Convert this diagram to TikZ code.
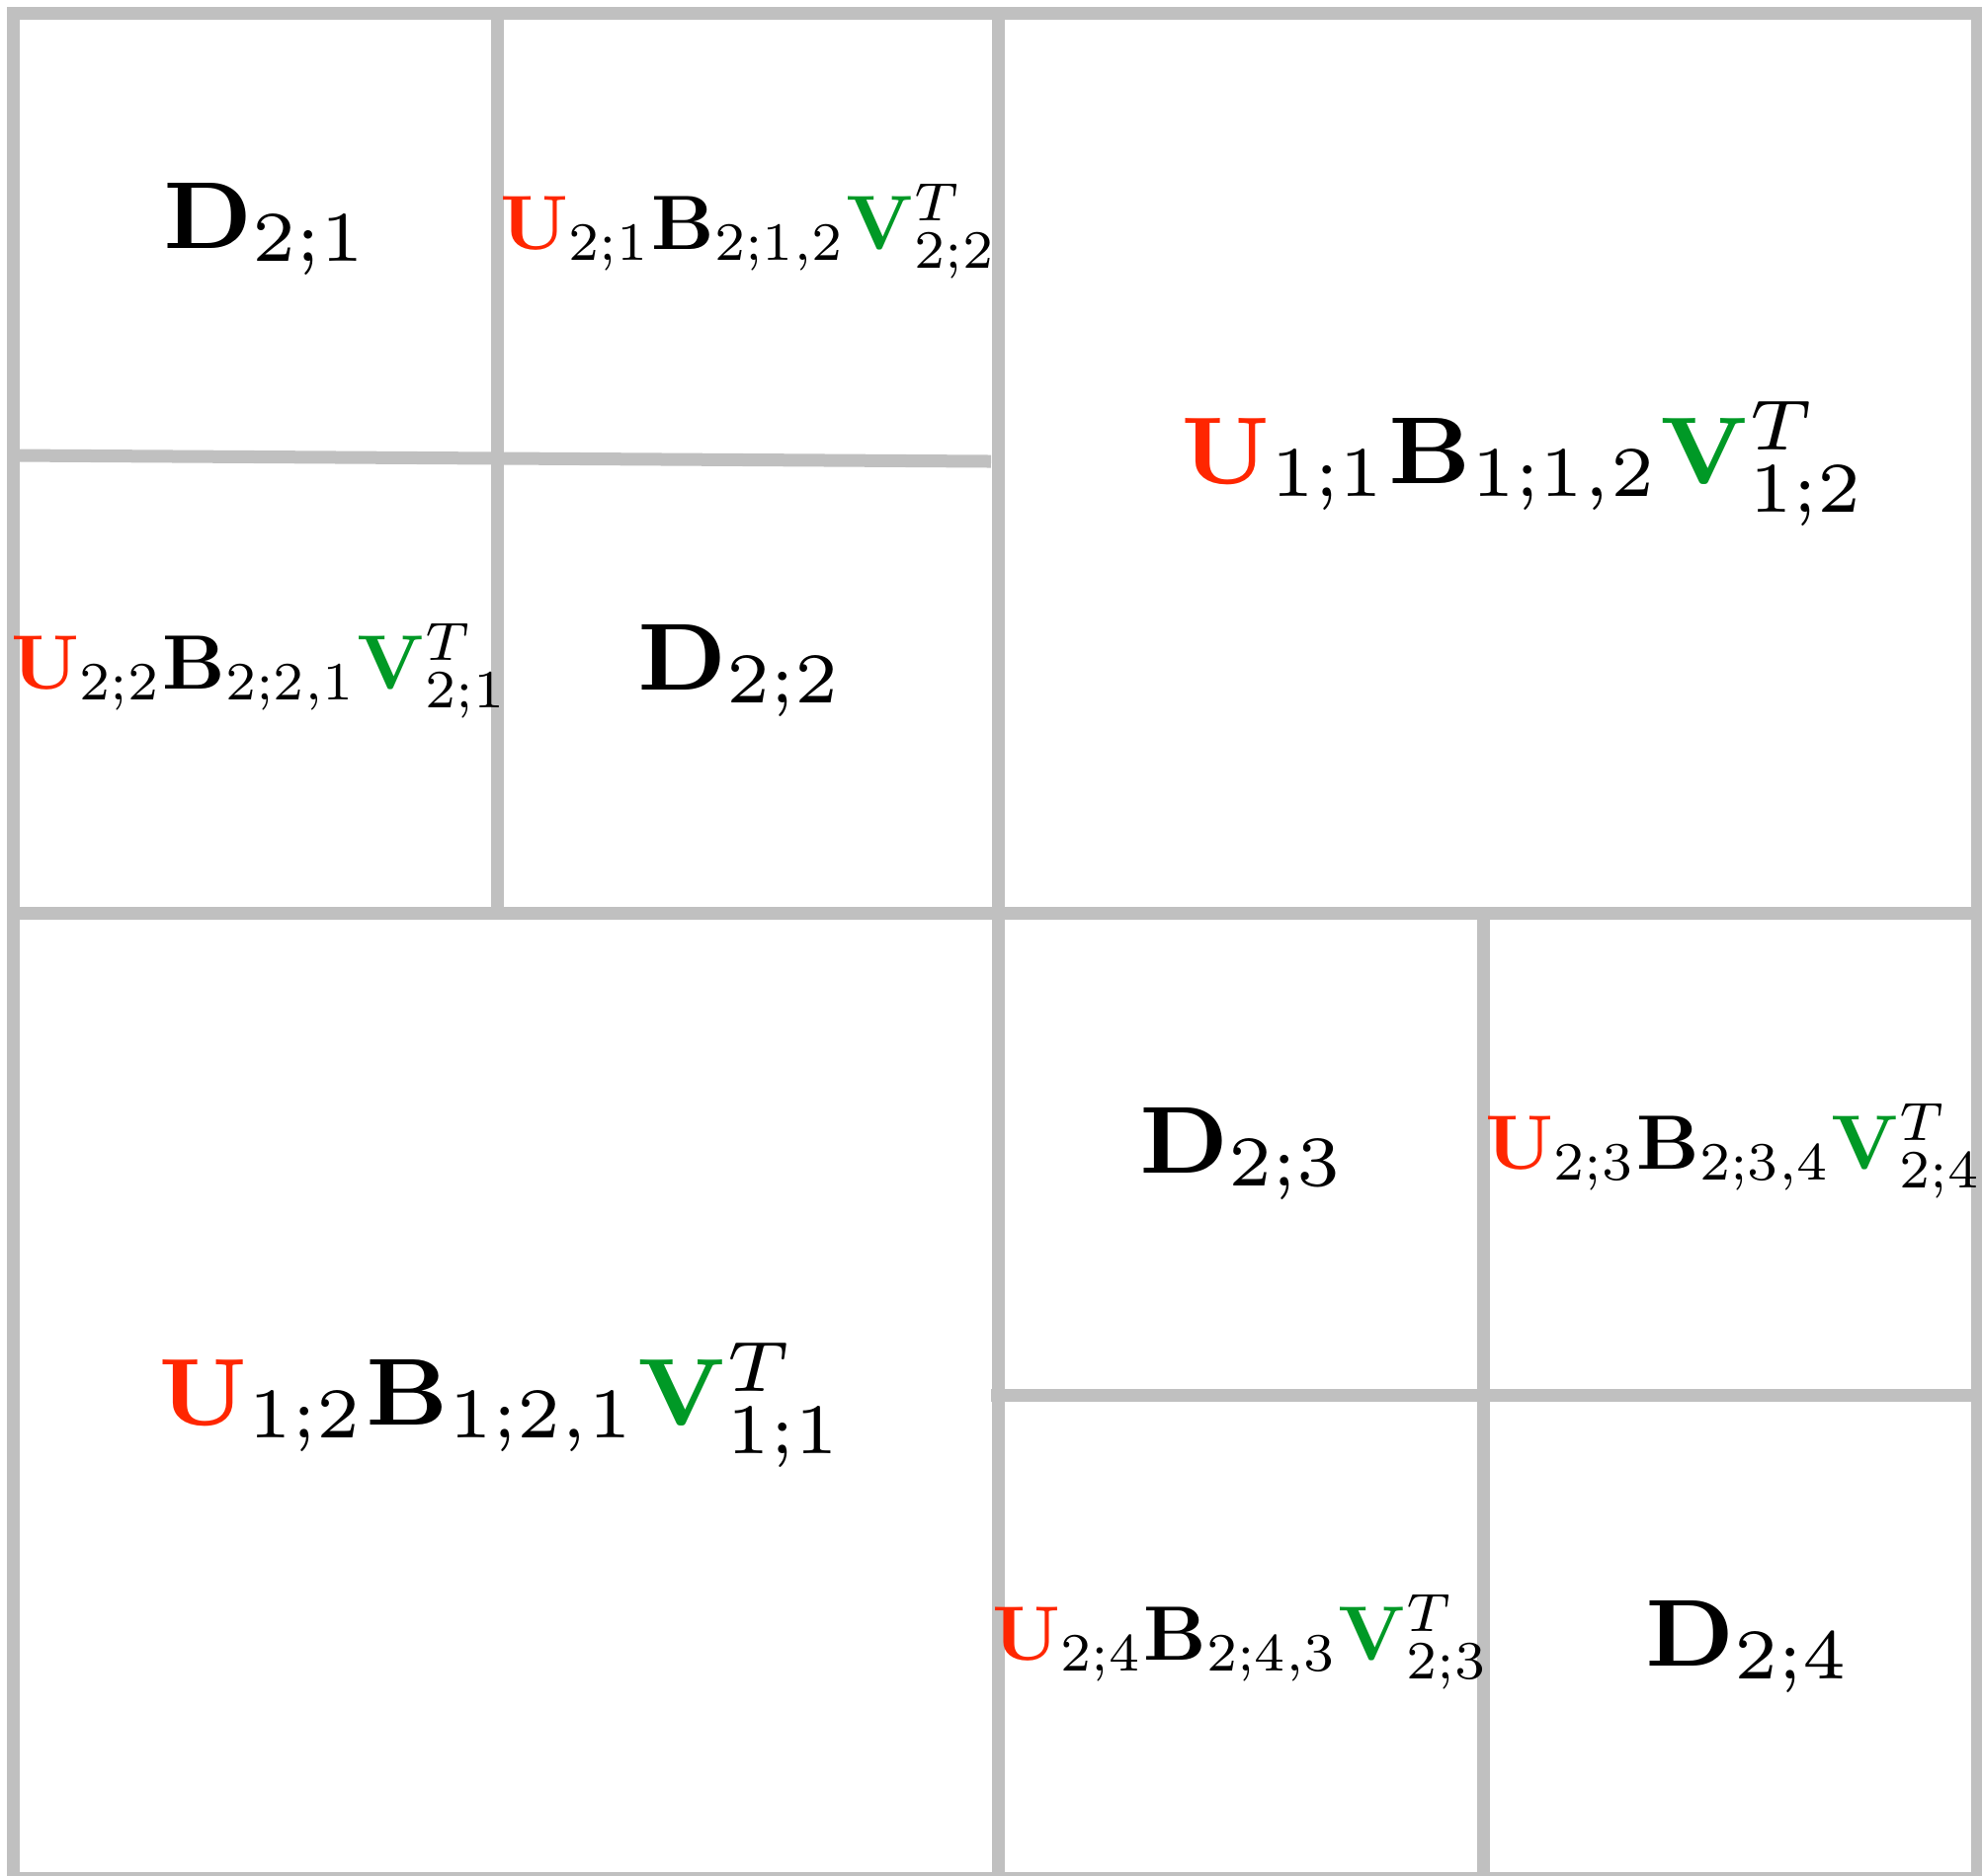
\documentclass[tikz,border=0pt]{standalone}
\usepackage{amsmath,amssymb}
\usepackage{tikz}

\definecolor{gridgray}{RGB}{192,192,192}
\definecolor{ured}{RGB}{255,38,0}
\definecolor{vgreen}{RGB}{0,153,38}
\newcommand{\mU}{{\color{ured}\mathbf{U}}}
\newcommand{\mV}{{\color{vgreen}\mathbf{V}}}

\begin{document}
\begin{tikzpicture}[
		blk/.style={draw=gridgray,line width=3.7pt},
		biglab/.style={anchor=base,inner sep=0pt,scale=3.42,font=\footnotesize},
		smalllab/.style={anchor=base,inner sep=0pt,scale=2.22,font=\normalsize}
		]
		\useasboundingbox (0,0) rectangle (20.06,-18.98);
		% block partition
		\draw[blk] (0.135,-0.135) rectangle (20.01,-19.01);
		\draw[blk] (10.10,-0.135) -- (10.10,-19.01);
		\draw[blk] (0.135,-9.245) -- (20.01,-9.245);
		\draw[blk] (5.035,-0.135) -- (5.035,-9.245);
		\draw[blk] (0.135,-4.61) -- (10.03,-4.67);
		\draw[blk] (15.01,-9.245) -- (15.01,-19.01);
		\draw[blk] (10.03,-14.12) -- (20.01,-14.12);
		
		% level 1
		\node[biglab] (lr12) at (15.43,-4.89) {$\mU_{1;1}\mathbf{B}_{1;1,2}\mV^T_{1;2}$};
		\node[biglab] (lr21) at (5.08,-14.42) {$\mU_{1;2}\mathbf{B}_{1;2,1}\mV^T_{1;1}$};
		
		% level 2
		\node[biglab] (d1) at (2.70,-2.51) {$\mathbf{D}_{2;1}$};
		\node[biglab] (d2) at (7.50,-6.985) {$\mathbf{D}_{2;2}$};
		\node[biglab] (d3) at (12.58,-11.87) {$\mathbf{D}_{2;3}$};
		\node[biglab] (d4) at (17.70,-16.86) {$\mathbf{D}_{2;4}$};
		\node[smalllab] (lr1) at (7.58,-2.52) {$\mU_{2;1}\mathbf{B}_{2;1,2}\mV^T_{2;2}$};
		\node[smalllab] (lr2) at (2.63,-6.97) {$\mU_{2;2}\mathbf{B}_{2;2,1}\mV^T_{2;1}$};
		\node[smalllab] (lr3) at (17.55,-11.83) {$\mU_{2;3}\mathbf{B}_{2;3,4}\mV^T_{2;4}$};
		\node[smalllab] (lr4) at (12.56,-16.80) {$\mU_{2;4}\mathbf{B}_{2;4,3}\mV^T_{2;3}$};
	\end{tikzpicture}
\end{document}
